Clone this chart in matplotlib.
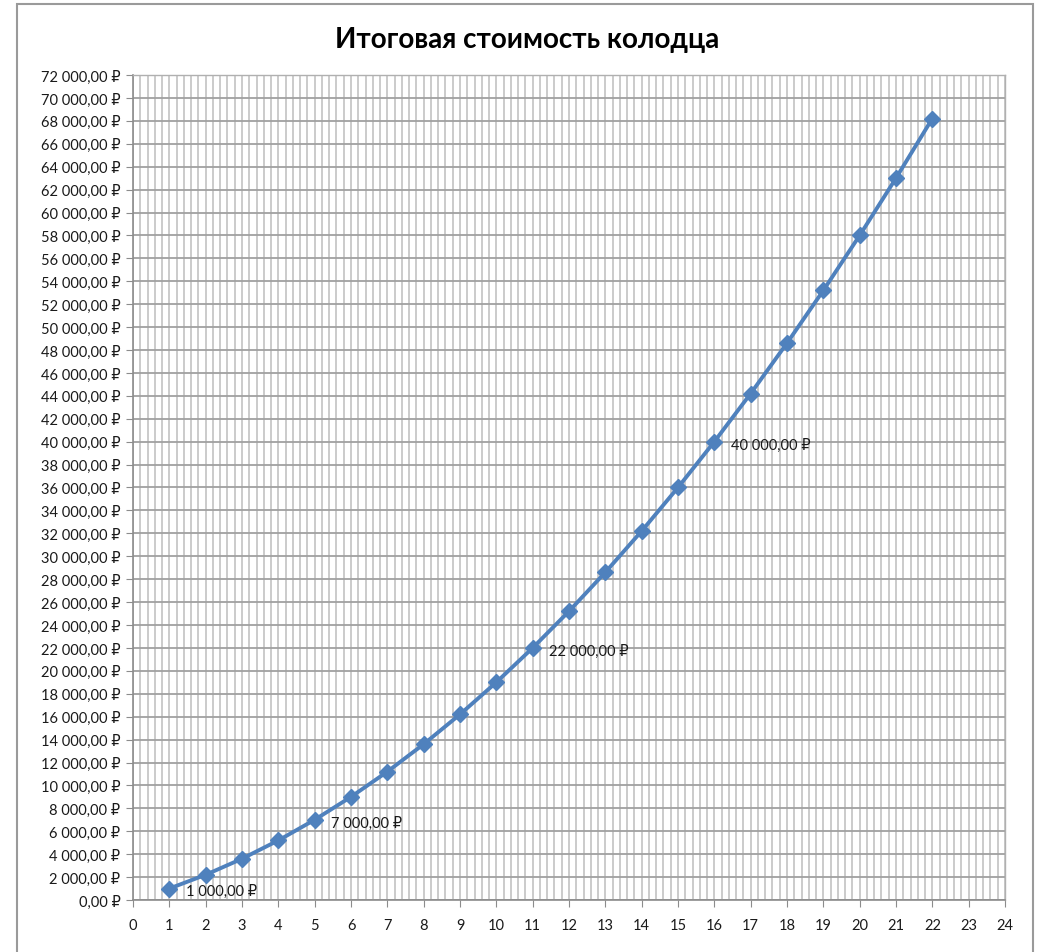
import matplotlib
matplotlib.use("Agg")
import matplotlib.pyplot as plt
from matplotlib.ticker import MultipleLocator, FuncFormatter
from matplotlib.patches import Rectangle

plt.rcParams['font.family'] = ['Lato', 'DejaVu Sans']

title = "Итоговая стоимость колодца"
x_vals = list(range(1, 23))
costs = [1000, 2200, 3600, 5200, 7000, 9000, 11200, 13600, 16200, 19000,
         22000, 25200, 28600, 32200, 36000, 40000, 44200, 48600, 53200,
         58000, 63000, 68200]
labeled_x = [1, 5, 11, 16]


def rub(v):
    s = f"{v:,.2f}".replace(",", " ").replace(".", ",")
    return s + " ₽"


W, H = 1039, 953
fig = plt.figure(figsize=(W / 100, H / 100), dpi=100)
fig.patch.set_facecolor("white")

fig.patches.append(Rectangle((17 / W, -0.02), 1016 / W, 1 - 5 / H + 0.02,
                             transform=fig.transFigure, fill=False,
                             edgecolor="#9a9a9a", linewidth=1.5, zorder=0))

ax = fig.add_axes([133 / W, 1 - 901 / H, (1005 - 133) / W, (901 - 76) / H])
ax.set_xlim(0, 24)
ax.set_ylim(0, 72000)

ax.xaxis.set_major_locator(MultipleLocator(1))
ax.xaxis.set_minor_locator(MultipleLocator(0.2))
ax.yaxis.set_major_locator(MultipleLocator(2000))
ax.yaxis.set_major_formatter(FuncFormatter(lambda v, p: rub(v)))

ax.grid(which="major", axis="y", color="#a0a0a0", linewidth=1.3, zorder=1)
ax.grid(which="both", axis="x", color="#bdbdbd", linewidth=1.1, zorder=1)
ax.set_axisbelow(True)

for side in ["top", "right"]:
    ax.spines[side].set_color("#b0b0b0")
    ax.spines[side].set_linewidth(1.0)
for side in ["left", "bottom"]:
    ax.spines[side].set_color("#8c8c8c")
    ax.spines[side].set_linewidth(1.2)

ax.tick_params(axis="both", which="major", direction="out", length=5,
               color="#8c8c8c", labelsize=10.5, labelcolor="#1a1a1a")
ax.tick_params(axis="x", which="major", pad=8)
ax.tick_params(axis="y", which="major", pad=4)
ax.tick_params(axis="x", which="minor", length=0)

ax.plot(x_vals, costs, color="#4f81bd", linewidth=2.8, marker="D",
        markersize=8, markerfacecolor="#4f81bd", markeredgecolor="#4f81bd",
        zorder=3, clip_on=False)

for xv, yv in zip(x_vals, costs):
    if xv in labeled_x:
        ax.annotate(rub(yv), xy=(xv, yv), xytext=(12, -2),
                    textcoords="offset points", ha="left", va="center",
                    fontsize=10.5, color="#1a1a1a", zorder=4)

fig.text(0.507, 1 - 40 / H, title, ha="center", va="center",
         fontsize=20, fontweight="bold", color="#000000")

fig.savefig("out.png", dpi=100, facecolor="white")
